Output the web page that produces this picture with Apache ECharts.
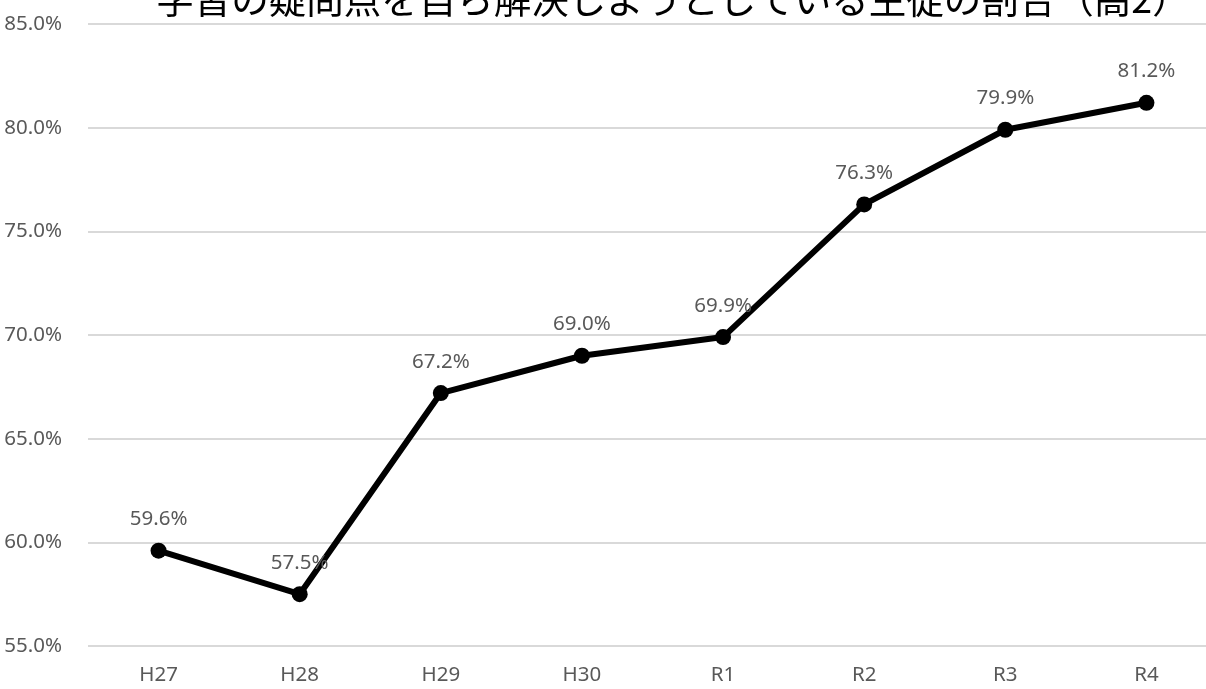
<!DOCTYPE html>
<html><head><meta charset="utf-8">
<script src="https://cdn.jsdelivr.net/npm/echarts@6/dist/echarts.min.js"></script>
<style>html,body{margin:0;padding:0;background:#fff}#c{width:1206px;height:689px}</style>
</head><body><div id="c"></div>
<script>
const titleText = '学習の疑問点を自ら解決しようとしている生徒の割合（高2）';
const categories = ['H27','H28','H29','H30','R1','R2','R3','R4'];
const values = [59.6, 57.5, 67.2, 69.0, 69.9, 76.3, 79.9, 81.2];
const yMin = 55, yMax = 85, yStep = 5;

const chart = echarts.init(document.getElementById('c'));
const font = '"Noto Sans", "Noto Sans CJK JP", sans-serif';
chart.setOption({
  animation: false,
  title: {
    text: titleText,
    left: 668, top: -25,
    textAlign: 'center',
    textStyle: { fontFamily: '"Noto Sans CJK JP", sans-serif', fontSize: 37.5, fontWeight: 'normal', color: '#000' }
  },
  grid: { left: 88, width: 1129, top: 24, bottom: 43, containLabel: false, outerBoundsMode: 'none' },
  xAxis: {
    type: 'category', data: categories, boundaryGap: true,
    axisLine: { show: false }, axisTick: { show: false },
    axisLabel: { color: '#595959', fontSize: 20.5, fontFamily: font, margin: 19 }
  },
  yAxis: {
    type: 'value', min: yMin, max: yMax, interval: yStep,
    axisLine: { show: false }, axisTick: { show: false },
    axisLabel: { color: '#595959', fontSize: 20.5, fontFamily: font, margin: 26,
      formatter: v => v.toFixed(1) + '%' },
    splitLine: { lineStyle: { color: '#d9d9d9', width: 2 } }
  },
  series: [{
    type: 'line', data: values,
    symbol: 'circle', symbolSize: 16,
    lineStyle: { color: '#000', width: 6 },
    itemStyle: { color: '#000' },
    label: { show: true, position: 'top', distance: 13, color: '#595959', fontSize: 20.5, fontFamily: font,
      formatter: p => p.value.toFixed(1) + '%' }
  }]
});
</script></body></html>
